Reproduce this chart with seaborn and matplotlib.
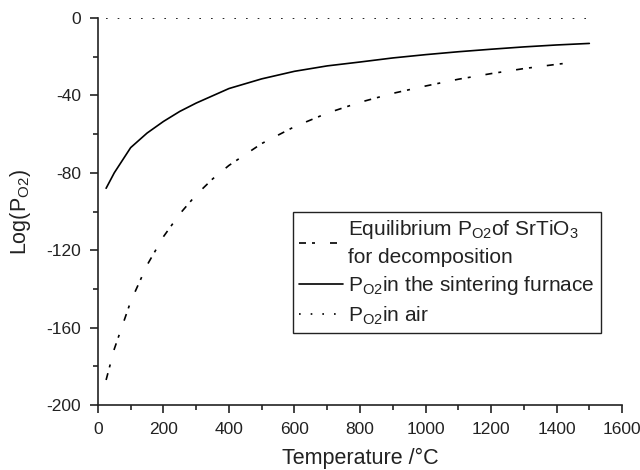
import pandas as pd
import seaborn as sns
import matplotlib.pyplot as plt
from matplotlib.ticker import MultipleLocator

# Values
temp_furnace = [25, 50, 100, 150, 200, 250, 300, 400, 500, 600, 700,
                800, 900, 1000, 1100, 1200, 1300, 1400, 1500]
logp_furnace = [-88, -80, -67, -59.5, -53.5, -48.3, -44, -36.5, -31.5, -27.6, -24.8,
                -22.8, -20.7, -19, -17.5, -16.2, -15, -14, -13.2]

temp_equil = [25, 50, 100, 150, 200, 250, 300, 350, 400, 500, 600, 700,
              800, 900, 1000, 1100, 1200, 1300, 1400, 1450]
logp_equil = [-187, -171, -146.5, -127.7, -113, -101.2, -91.4, -83.2, -76.2, -64.9, -56.2, -49.2,
              -43.6, -39, -35.2, -31.7, -28.8, -26.2, -24, -23]

temp_air = [25, 1500]
logp_air = [0, 0]

lbl_equil = 'Equilibrium P$_{\\mathregular{O2}}$of SrTiO$_{\\mathregular{3}}$\nfor decomposition'
lbl_furnace = 'P$_{\\mathregular{O2}}$in the sintering furnace'
lbl_air = 'P$_{\\mathregular{O2}}$in air'

sns.set_style('ticks')
plt.rcParams['font.family'] = ['Liberation Sans', 'DejaVu Sans']
plt.rcParams['mathtext.default'] = 'regular'
plt.rcParams['axes.unicode_minus'] = False
ink = '#222222'
plt.rcParams.update({'text.color': ink, 'axes.labelcolor': ink,
                     'xtick.color': ink, 'ytick.color': ink, 'axes.edgecolor': ink})

fig = plt.figure(figsize=(6.4, 4.7), dpi=100)
ax = fig.add_axes([0.153, 0.138, 0.819, 0.824])

sns.lineplot(x=temp_equil, y=logp_equil, ax=ax, color='black', lw=1.2,
             dashes=(4.2, 3.6, 1.8, 9), label=lbl_equil)
sns.lineplot(x=temp_furnace, y=logp_furnace, ax=ax, color='black', lw=1.2,
             label=lbl_furnace)
sns.lineplot(x=temp_air, y=logp_air, ax=ax, color='black', lw=1.2,
             linestyle=(0, (1, 6)), label=lbl_air)

ax.set_xlim(0, 1600)
ax.set_ylim(-200, 0)
ax.xaxis.set_major_locator(MultipleLocator(200))
ax.xaxis.set_minor_locator(MultipleLocator(100))
ax.yaxis.set_major_locator(MultipleLocator(40))
ax.yaxis.set_minor_locator(MultipleLocator(20))
ax.tick_params(which='major', length=6, width=1.2, labelsize=12.5, direction='out', pad=6)
ax.tick_params(which='minor', length=3.5, width=1.2, direction='out')
sns.despine(ax=ax)
ax.spines['left'].set_linewidth(1.2)
ax.spines['bottom'].set_linewidth(1.2)

ax.set_xlabel('Temperature /°C', fontsize=15.5, labelpad=8)
ax.set_ylabel('Log(P$_{\\mathregular{O2}}$)', fontsize=15.5, labelpad=10)

leg = ax.legend(loc='upper left', bbox_to_anchor=(0.372, 0.499), borderaxespad=0,
                fontsize=15, frameon=True, fancybox=False, framealpha=1,
                edgecolor=ink, handlelength=2.1, handletextpad=0.25,
                borderpad=0.3, labelspacing=0.35)
leg.get_texts()[0].set_linespacing(1.45)
leg.get_frame().set_linewidth(1.0)

fig.savefig('out.png', dpi=100)
